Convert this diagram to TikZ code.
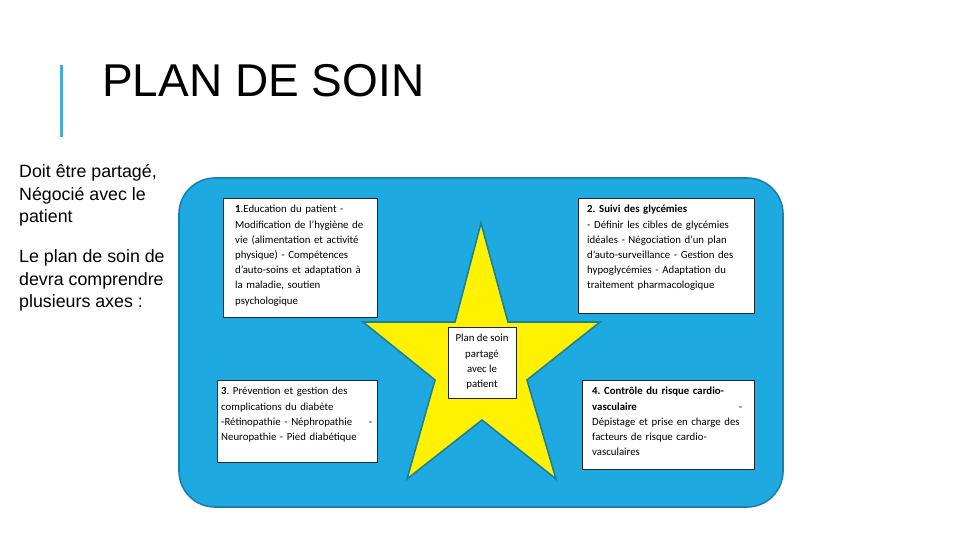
\documentclass[tikz,border=0pt]{standalone}
\usepackage{fontspec}
\setmainfont{Carlito}
\newfontfamily\arialfont{Liberation Sans}
\definecolor{panelblue}{HTML}{1EAAE0}
\definecolor{paneledge}{HTML}{1B7FAE}
\definecolor{staredge}{HTML}{1E7F95}
\definecolor{accentbar}{HTML}{45AAD5}
\frenchspacing
\begin{document}
\begin{tikzpicture}[x=1pt,y=-1pt,
  card/.style={draw=black!85, line width=0.8pt, fill=white, inner sep=0pt, anchor=north west},
  cardtext/.style={inner sep=0pt, anchor=north west, align=left, text width=#1,
    font=\fontsize{10.8}{15.2}\selectfont},
  sidetext/.style={inner sep=0pt, anchor=base west, font=\arialfont\fontsize{17.8}{22}\selectfont}
]
\useasboundingbox (0,0) rectangle (960,540);
\fill[white] (0,0) rectangle (960,540);

% title
\draw[accentbar, line width=3pt] (61,65) coordinate (barA) -- (61,137) coordinate (barB);
\node[inner sep=0pt, anchor=base west, font=\arialfont\fontsize{46}{50}\selectfont] (title) at (102,96.5) {PLAN DE SOIN};

% side text
\node[sidetext] (s1) at (19,177.7) {Doit être partagé,};
\node[sidetext] (s2) at (19,200.3) {Négocié avec le};
\node[sidetext] (s3) at (19,222.9) {patient};
\node[sidetext] (s4) at (19,262.7) {Le plan de soin de};
\node[sidetext] (s5) at (19,285.2) {devra comprendre};
\node[sidetext] (s6) at (19,307.7) {plusieurs axes :};

% panel
\draw[fill=panelblue, draw=paneledge, line width=1.6pt, rounded corners=36pt]
  (179,178) rectangle (783,507);

% star
\filldraw[fill=yellow, draw=staredge, line width=1.6pt, line join=miter]
  (481,223) -- (508,322) -- (600,322) -- (527,380) -- (556,479) -- (482,420)
  -- (407,479) -- (435,380) -- (363,322) -- (455,322) -- cycle;

% boxes
\node[card, minimum width=154pt, minimum height=119pt] (b1) at (223,198) {};
\node[cardtext=140pt] (t1) at (235,205.2) {\textbf{1}.Education du patient -\\
Modification de l’hygiène de\\
vie (alimentation et activité\\
physique) - Compétences\\
d’auto-soins et adaptation à\\
la maladie, soutien\\
psychologique};

\node[card, minimum width=176pt, minimum height=115pt] (b2) at (578,198) {};
\node[cardtext=162pt] (t2) at (587,205.2) {\textbf{2. Suivi des glycémies}\\
- Définir les cibles de glycémies\\
idéales - Négociation d’un plan\\
d’auto-surveillance - Gestion des\\
hypoglycémies - Adaptation du\\
traitement pharmacologique};

\node[card, minimum width=160pt, minimum height=82pt] (b3) at (217,380) {};
\node[cardtext=151pt] (t3) at (221,387.2) {\textbf{3}. Prévention et gestion des\\
complications du diabète\\
-Rétinopathie - Néphropathie\hfill -\\
Neuropathie - Pied diabétique};

\node[card, minimum width=172pt, minimum height=89pt] (b4) at (582,380) {};
\node[cardtext=150pt] (t4) at (592,387.2) {\textbf{4. Contrôle du risque cardio-}\\
\textbf{vasculaire}\hfill -\\
Dépistage et prise en charge des\\
facteurs de risque cardio-\\
vasculaires};

\node[card, minimum width=68pt, minimum height=71pt] (c) at (448,327) {};
\node[inner sep=0pt, anchor=north, align=center, font=\fontsize{10.8}{15.2}\selectfont] (ct) at (482,334.2) {Plan de soin\\partagé\\avec le\\patient};
\end{tikzpicture}
\end{document}
